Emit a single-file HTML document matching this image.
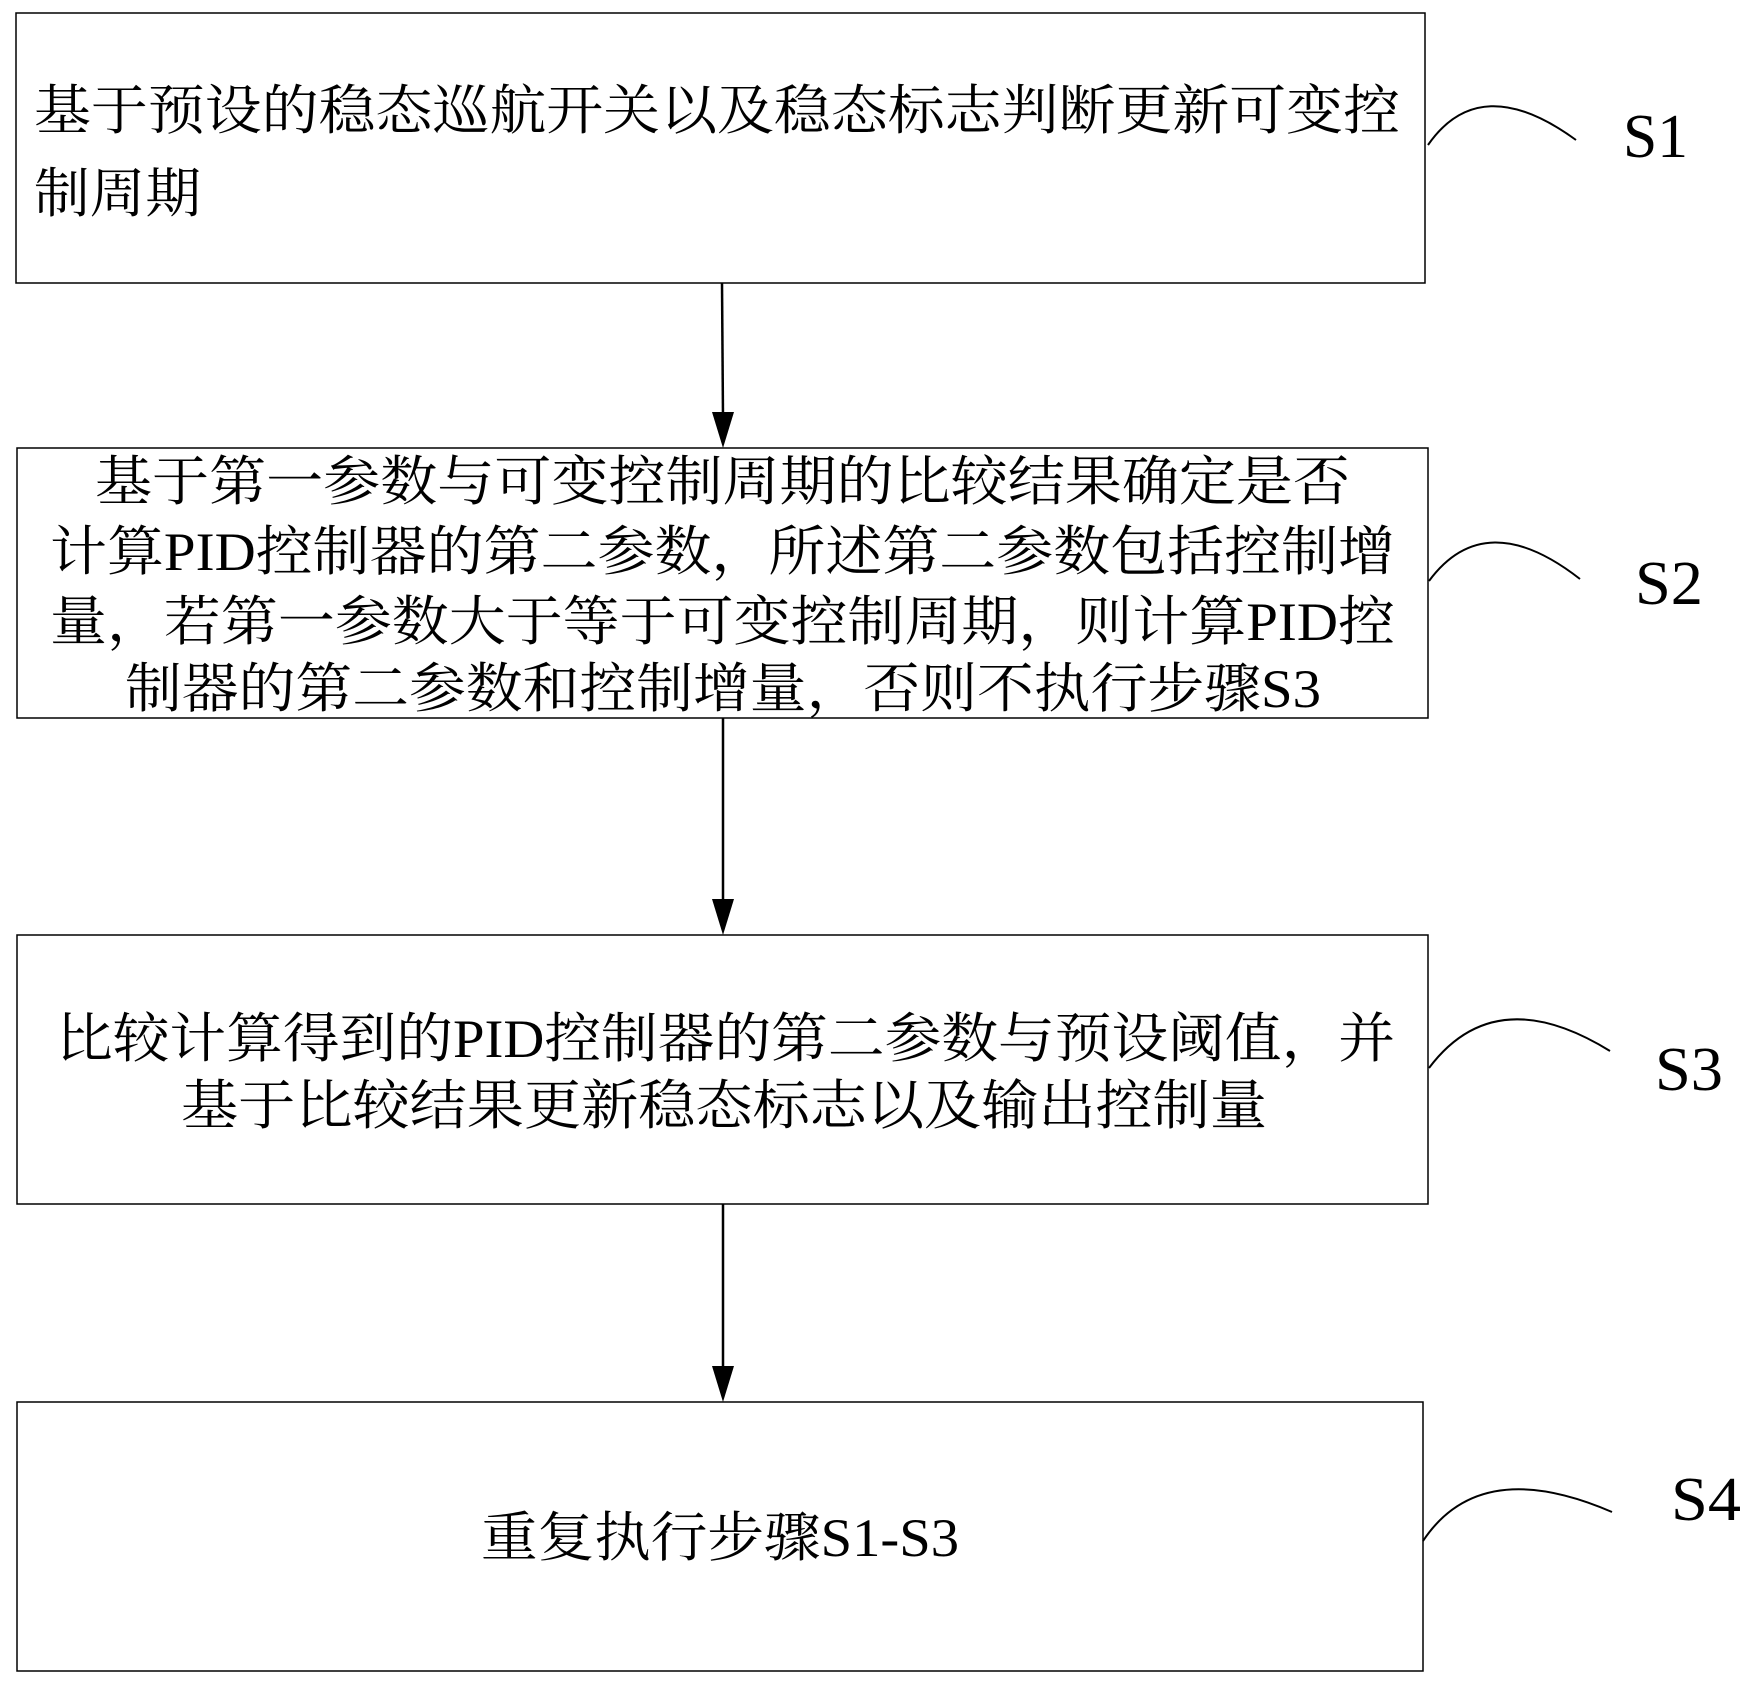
<!DOCTYPE html>
<html><head><meta charset="utf-8"><style>
html,body{margin:0;padding:0;background:#fff;}
svg{display:block;}
text{font-family:"Liberation Serif","Noto Serif CJK SC",serif;fill:#000;}
</style></head><body>
<svg width="1753" height="1688" viewBox="0 0 1753 1688" xmlns="http://www.w3.org/2000/svg">
<g fill="none" stroke="#000" stroke-width="1.5">
<rect x="16" y="13" width="1409" height="270"/>
<rect x="17" y="448" width="1411" height="270"/>
<rect x="17" y="935" width="1411" height="269"/>
<rect x="17" y="1402" width="1406" height="269"/>
</g>
<g stroke="#000" stroke-width="2.5">
<line x1="722" y1="283" x2="723" y2="418"/>
<line x1="723" y1="718" x2="723" y2="905"/>
<line x1="723" y1="1204" x2="723" y2="1372"/>
</g>
<g fill="#000">
<polygon points="712,412 734,412 723,448"/>
<polygon points="712,899 734,899 723,935"/>
<polygon points="712,1366 734,1366 723,1402"/>
</g>
<g fill="none" stroke="#000" stroke-width="2">
<path d="M1428,145 Q1480,70 1576,140"/>
<path d="M1429,581 Q1485,505 1580,579"/>
<path d="M1429,1068 Q1495,980 1610,1051"/>
<path d="M1423,1541 Q1480,1455 1612,1512"/>
</g>
<g font-size="54">
<text x="34" y="129" textLength="1366" lengthAdjust="spacingAndGlyphs">基于预设的稳态巡航开关以及稳态标志判断更新可变控</text>
<text x="34" y="212" textLength="167" lengthAdjust="spacingAndGlyphs">制周期</text>
<text x="95" y="500" textLength="1255" lengthAdjust="spacingAndGlyphs">基于第一参数与可变控制周期的比较结果确定是否</text>
<text x="50" y="570" textLength="1345" lengthAdjust="spacingAndGlyphs">计算PID控制器的第二参数，所述第二参数包括控制增</text>
<text x="50" y="640" textLength="1345" lengthAdjust="spacingAndGlyphs">量，若第一参数大于等于可变控制周期，则计算PID控</text>
<text x="125" y="707" textLength="1196" lengthAdjust="spacingAndGlyphs">制器的第二参数和控制增量，否则不执行步骤S3</text>
<text x="56" y="1057" textLength="1339" lengthAdjust="spacingAndGlyphs">比较计算得到的PID控制器的第二参数与预设阈值，并</text>
<text x="181" y="1124" textLength="1086" lengthAdjust="spacingAndGlyphs">基于比较结果更新稳态标志以及输出控制量</text>
<text x="481" y="1556" textLength="478" lengthAdjust="spacingAndGlyphs">重复执行步骤S1-S3</text>
</g>
<g font-size="62">
<text x="1623" y="157" textLength="65" lengthAdjust="spacingAndGlyphs">S1</text>
<text x="1635" y="604" textLength="68" lengthAdjust="spacingAndGlyphs">S2</text>
<text x="1655" y="1090" textLength="68" lengthAdjust="spacingAndGlyphs">S3</text>
<text x="1671" y="1520" textLength="70" lengthAdjust="spacingAndGlyphs">S4</text>
</g>
</svg>
</body></html>
